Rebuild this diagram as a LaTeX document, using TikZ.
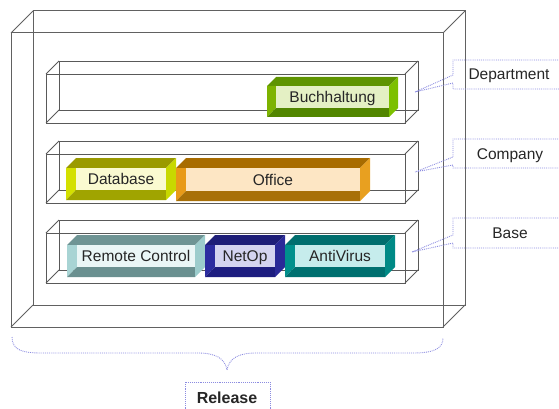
\documentclass[tikz,border=0pt]{standalone}
\usepackage{fontspec}
\setmainfont{Liberation Sans}

% colour sets of the bevelled blocks: top, left, right, bottom, inner face
\definecolor{buchtop}{HTML}{5E9400}\definecolor{buchleft}{HTML}{7DB300}
\definecolor{buchright}{HTML}{7CC000}\definecolor{buchbottom}{HTML}{528600}
\definecolor{buchinner}{HTML}{E4F0C4}
\definecolor{dbtop}{HTML}{9A9A00}\definecolor{dbleft}{HTML}{D4E000}
\definecolor{dbright}{HTML}{C8D800}\definecolor{dbbottom}{HTML}{A0A400}
\definecolor{dbinner}{HTML}{FAFAD0}
\definecolor{offtop}{HTML}{A86C00}\definecolor{offleft}{HTML}{E89A18}
\definecolor{offright}{HTML}{E8A020}\definecolor{offbottom}{HTML}{A87008}
\definecolor{offinner}{HTML}{FDE6C4}
\definecolor{remtop}{HTML}{6E9494}\definecolor{remleft}{HTML}{A8D4D4}
\definecolor{remright}{HTML}{9CCCCC}\definecolor{rembottom}{HTML}{6A9090}
\definecolor{reminner}{HTML}{EAF6F6}
\definecolor{nettop}{HTML}{1E1E78}\definecolor{netleft}{HTML}{2C2CA0}
\definecolor{netright}{HTML}{2A2A98}\definecolor{netbottom}{HTML}{1E1E80}
\definecolor{netinner}{HTML}{D4D4F0}
\definecolor{avtop}{HTML}{006E6E}\definecolor{avleft}{HTML}{00908C}
\definecolor{avright}{HTML}{008A86}\definecolor{avbottom}{HTML}{007070}
\definecolor{avinner}{HTML}{C6ECEC}
\definecolor{calloutblue}{HTML}{8C8CE0}

\tikzset{
  frameline/.style={draw=black!62, line width=1pt},
  shelfline/.style={draw=black!65, line width=0.9pt},
  calloutline/.style={draw=calloutblue, densely dotted, line width=0.9pt},
  lbl/.style={font=\fontsize{15.5}{18}\selectfont, text=black!85,
              inner sep=0pt, text height=11pt, text depth=0pt},
}

% bevelled block: colour prefix / node name, left, top, right, bottom, bevel, text
\newcommand\blockbox[7]{%
  \fill[#1top] (#2,{#3+#6}) -- ({#2+#6},#3) -- (#4,#3) -- ({#4-#6},{#3+#6}) -- cycle;
  \fill[#1left] (#2,{#3+#6}) -- ({#2+#6},{#3+#6}) -- ({#2+#6},{#5-#6}) -- (#2,#5) -- cycle;
  \fill[#1bottom] (#2,#5) -- ({#2+#6},{#5-#6}) -- ({#4-#6},{#5-#6}) -- ({#4-#6},#5) -- cycle;
  \fill[#1right] ({#4-#6},{#3+#6}) -- (#4,#3) -- (#4,{#5-#6}) -- ({#4-#6},#5) -- cycle;
  \fill[#1inner] ({#2+#6},{#3+#6}) rectangle ({#4-#6},{#5-#6});
  \node[lbl] (#1) at ({(#2+#4)/2},{(#3+#5)/2}) {#7};
}

% wireframe box: style, left, top, right, bottom of the front face, depth
\newcommand\wirebox[6]{%
  \draw[#1] ({#2+#6},{#3-#6}) rectangle ({#4+#6},{#5-#6});
  \draw[#1] (#2,#3) rectangle (#4,#5);
  \draw[#1] (#2,#3) -- ({#2+#6},{#3-#6}) (#4,#3) -- ({#4+#6},{#3-#6})
            (#4,#5) -- ({#4+#6},{#5-#6}) (#2,#5) -- ({#2+#6},{#5-#6});
}

\begin{document}
\begin{tikzpicture}[x=1pt, y=-1pt]
  \useasboundingbox (0,0) rectangle (559,409);
  \clip (0,0) rectangle (559,409);

  % release frame and the three layers
  \wirebox{frameline}{11}{33}{443}{327}{22}
  \wirebox{shelfline}{46}{74}{405}{123}{13}
  \wirebox{shelfline}{46}{154}{405}{203}{13}
  \wirebox{shelfline}{46}{233}{405}{283}{13}

  % packages
  \blockbox{buch}{267}{77}{398}{117}{9}{Buchhaltung}
  \blockbox{db}{66}{158}{176}{200}{10}{Database}
  \blockbox{off}{176}{158}{370}{201}{10}{Office}
  \blockbox{rem}{67}{235}{205}{277}{10}{Remote Control}
  \blockbox{net}{205}{235}{285}{277}{10}{NetOp}
  \blockbox{av}{285}{235}{395}{277}{10}{AntiVirus}

  % layer callouts
  \coordinate (deptTip) at (415,92);
  \draw[calloutline] (575,60) -- (453,60) -- (453,75) -- (deptTip) -- (453,83) -- (453,89) -- (575,89);
  \node[lbl] (dept) at (509,74.5) {Department};

  \coordinate (compTip) at (415,172);
  \draw[calloutline] (575,139) -- (453,139) -- (453,157) -- (compTip) -- (453,165) -- (453,168) -- (575,168);
  \node[lbl] (comp) at (510,153.5) {Company};

  \coordinate (baseTip) at (412,252);
  \draw[calloutline] (575,218) -- (453,218) -- (453,235) -- (baseTip) -- (453,243) -- (453,248) -- (575,248);
  \node[lbl] (base) at (510,233) {Base};

  % release brace and label
  \coordinate (braceL) at (12,337);
  \coordinate (braceR) at (443,338);
  \coordinate (braceTip) at (227,370);
  \draw[calloutline] (braceL) .. controls (12,350) and (22,353) .. (42,353)
        -- (198,353) .. controls (215,353) and (225,358) .. (braceTip)
        .. controls (229,358) and (239,353) .. (256,353)
        -- (413,353) .. controls (435,353) and (443,348) .. (braceR);
  \draw[calloutline] (185,415) -- (185,382) -- (270,382) -- (270,415);
  \node[lbl, font=\fontsize{16}{18}\selectfont\bfseries] (release) at (227,398) {Release};
\end{tikzpicture}
\end{document}
